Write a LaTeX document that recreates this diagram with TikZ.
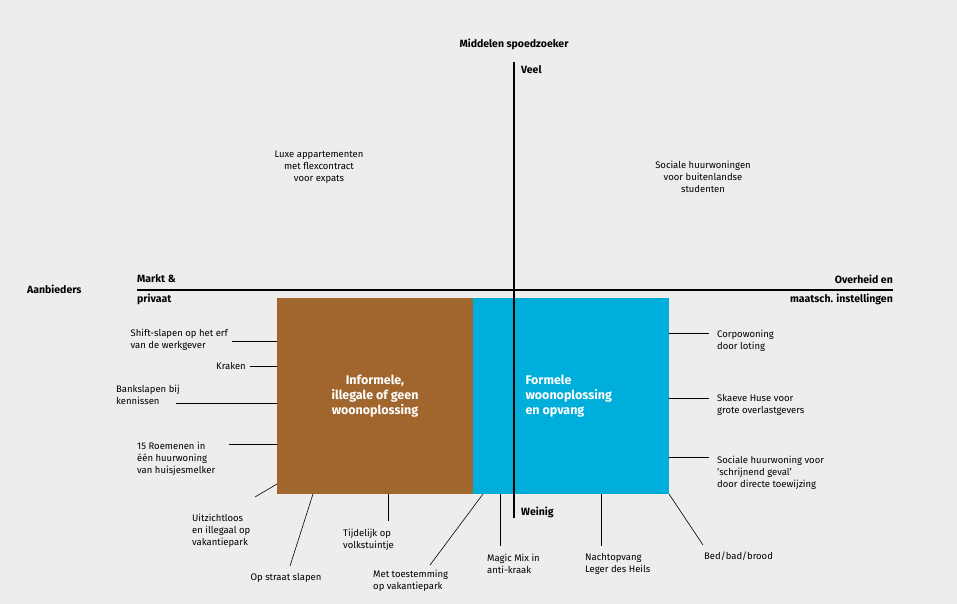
\documentclass[tikz,border=0pt]{standalone}
\usepackage{fontspec}
\setmainfont{Fira Sans}
\definecolor{bg}{HTML}{EFEDEB}
\definecolor{brn}{HTML}{A0662E}
\definecolor{blu}{HTML}{00AEDB}
\begin{document}
\begin{tikzpicture}[x=1pt,y=-1pt,
  lbl/.style={font=\fontsize{9.5}{12}\selectfont,inner sep=0pt,align=left},
  hd/.style={font=\fontsize{10.5}{12.5}\selectfont\bfseries,inner sep=0pt},
  lead/.style={draw=black,line width=0.6pt}]
\fill[bg] (0,0) rectangle (957,604);
\useasboundingbox (0,0) rectangle (957,604);
\node[fill=brn,minimum width=196pt,minimum height=196pt,inner sep=0pt] (B) at (375,396) {};
\node[fill=blu,minimum width=196pt,minimum height=196pt,inner sep=0pt] (C) at (571,396) {};
\node[font=\fontsize{12.5}{15}\selectfont\bfseries,text=white,align=center] at (375,396) {Informele,\\illegale of geen\\woonoplossing};
\node[font=\fontsize{12.5}{15}\selectfont\bfseries,text=white,align=left,anchor=west] at (522,396) {Formele\\woonoplossing\\en opvang};
\coordinate (vt) at (514,62); \coordinate (vb) at (514,518);
\draw[line width=1.3pt] (vt) -- (vb);
\coordinate (hl) at (137,290); \coordinate (hr) at (893,290);
\draw[line width=1.3pt] (hl) -- (hr);
\node[hd] (mid) at (514,44) {Middelen spoedzoeker};
\node[hd,anchor=west] (veel) at (521,70) {Veel};
\node[hd,anchor=west] (weinig) at (521,512) {Weinig};
\node[hd,anchor=west] (aanb) at (27,289) {Aanbieders};
\node[hd,anchor=west] (mk) at (137,279) {Markt \&};
\node[hd,anchor=west] (pr) at (137,299) {privaat};
\node[hd,anchor=east] (ov) at (893,279) {Overheid en};
\node[hd,anchor=east] (mi) at (893,299) {maatsch. instellingen};
\node[lbl,align=center] (luxe) at (319,167) {Luxe appartementen\\met flexcontract\\voor expats};
\node[lbl,align=center] (soc) at (703,177) {Sociale huurwoningen\\voor buitenlandse\\studenten};
% left labels
\node[lbl,anchor=east,align=left] (shift) at (228,340) {Shift-slapen op het erf\\van de werkgever};
\coordinate (shiftE) at (277,341); \draw[lead] (232,341) -- (shiftE);
\node[lbl,anchor=east] (krak) at (246,366) {Kraken};
\coordinate (krakE) at (277,366); \draw[lead] (krak.east)++(4,0) -- (krakE);
\node[lbl,anchor=west] (bank) at (116,395) {Bankslapen bij\\kennissen};
\coordinate (bankE) at (277,403); \draw[lead] (176,403) -- (bankE);
\node[lbl,anchor=west] (roem) at (137,459) {15 Roemenen in\\één huurwoning\\van huisjesmelker};
\coordinate (roemE) at (277,444); \draw[lead] (229,444) -- (roemE);
\node[lbl,anchor=west] (uitz) at (192,531) {Uitzichtloos\\en illegaal op\\vakantiepark};
\coordinate (uA) at (277,484); \coordinate (uB) at (255,497); \draw[lead] (uA) -- (uB);
\node[lbl] (straat) at (286,578) {Op straat slapen};
\coordinate (sA) at (313,494); \coordinate (sB) at (290,566); \draw[lead] (sA) -- (sB);
\node[lbl,anchor=west] (tijd) at (343,540) {Tijdelijk op\\volkstuintje};
\coordinate (tA) at (388,494); \coordinate (tB) at (388,521); \draw[lead] (tA) -- (tB);
\node[lbl,anchor=west] (toe) at (373,581) {Met toestemming\\op vakantiepark};
\coordinate (mA) at (483,494); \coordinate (mB) at (430,565); \draw[lead] (mA) -- (mB);
\node[lbl,anchor=west] (magic) at (487,564) {Magic Mix in\\anti-kraak};
\coordinate (gA) at (500,494); \coordinate (gB) at (500,546); \draw[lead] (gA) -- (gB);
\node[lbl,anchor=west] (nacht) at (585,564) {Nachtopvang\\Leger des Heils};
\coordinate (nA) at (601,494); \coordinate (nB) at (601,546); \draw[lead] (nA) -- (nB);
\node[lbl,anchor=west] (bed) at (704,556) {Bed/bad/brood};
\coordinate (dA) at (669,494); \coordinate (dB) at (703,545); \draw[lead] (dA) -- (dB);
% right labels
\node[lbl,anchor=west] (corp) at (717,341) {Corpowoning\\door loting};
\coordinate (cA) at (669,333); \draw[lead] (cA) -- (709,333);
\node[lbl,anchor=west] (skae) at (717,405) {Skaeve Huse voor\\grote overlastgevers};
\coordinate (kA) at (669,398); \draw[lead] (kA) -- (709,398);
\node[lbl,anchor=west] (sh) at (717,473) {Sociale huurwoning voor\\‘schrijnend geval’\\door directe toewijzing};
\coordinate (hA) at (669,457); \draw[lead] (hA) -- (709,457);
\end{tikzpicture}
\end{document}
